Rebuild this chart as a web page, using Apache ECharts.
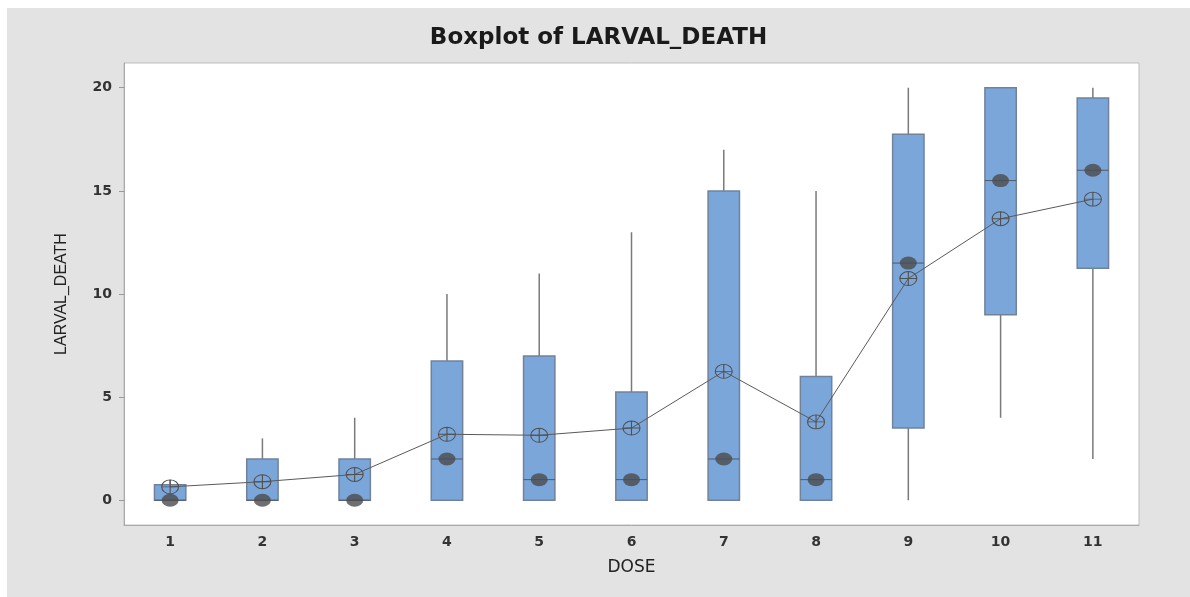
<!DOCTYPE html>
<html>
<head>
<meta charset="utf-8">
<script src="https://cdn.jsdelivr.net/npm/echarts@6/dist/echarts.min.js"></script>
<style>
  html, body { margin: 0; padding: 0; background: #fff; }
  #wrap { width: 1190px; height: 597px; padding: 8px 0 0 7px; box-sizing: border-box; }
  #boxplot_larval { width: 1183px; height: 589px; background: #e3e3e3; }
</style>
</head>
<body>
<div id="wrap"><div id="boxplot_larval"></div></div>
<script>
// Boxplot of LARVAL_DEATH by DOSE
var doses = ['1', '2', '3', '4', '5', '6', '7', '8', '9', '10', '11'];
var whiskerLow = [0, 0, 0, 0, 0, 0, 0, 0, 0, 4, 2];
var q1 = [0, 0, 0, 0, 0, 0, 0, 0, 3.5, 9, 11.25];
var medians = [0, 0, 0, 2, 1, 1, 2, 1, 11.5, 15.5, 16];
var q3 = [0.75, 2, 2, 6.75, 7, 5.25, 15, 6, 17.75, 20, 19.5];
var whiskerHigh = [1, 3, 4, 10, 11, 13, 17, 15, 20, 20, 20];
var means = [0.65, 0.9, 1.25, 3.2, 3.15, 3.5, 6.25, 3.8, 10.75, 13.65, 14.6];
var yTicks = [0, 5, 10, 15, 20];

var dom = document.getElementById('boxplot_larval');
var myChart = echarts.init(dom);

var boxData = doses.map(function (d, i) {
    return [i, whiskerLow[i], q1[i], medians[i], q3[i], whiskerHigh[i]];
});
var medianData = doses.map(function (d, i) { return [i, medians[i]]; });

var meanSymbol = 'path://M0,5A5,5 0 1,1 10,5A5,5 0 1,1 0,5Z M5,0L5,10 M0,5L10,5';

var option = {
    animation: false,
    title: {
        text: 'Boxplot of LARVAL_DEATH',
        left: 'center',
        top: 14,
        textStyle: { fontFamily: 'DejaVu Sans', fontSize: 23, fontWeight: 'bold', color: '#1a1a1a' }
    },
    grid: {
        left: 117, top: 55, width: 1015, height: 462,
        show: true, backgroundColor: '#ffffff', borderColor: '#bdbdbd', borderWidth: 1
    },
    xAxis: {
        type: 'category',
        data: doses,
        name: 'DOSE',
        nameLocation: 'middle',
        nameGap: 34,
        nameTextStyle: { fontFamily: 'DejaVu Sans', fontSize: 17, color: '#222' },
        axisLine: { onZero: false, lineStyle: { color: '#aaaaaa' } },
        axisTick: { alignWithLabel: true, length: 5, lineStyle: { color: '#999' } },
        axisLabel: { fontFamily: 'DejaVu Sans', fontSize: 14, fontWeight: 'bold', color: '#333', margin: 10 },
        splitLine: { show: false }
    },
    yAxis: {
        type: 'value',
        min: -1.2,
        max: 21.2,
        name: 'LARVAL_DEATH',
        nameLocation: 'middle',
        nameRotate: 90,
        nameGap: 54,
        nameTextStyle: { fontFamily: 'Liberation Sans', fontSize: 16, color: '#222' },
        axisLine: { show: true, lineStyle: { color: '#aaaaaa' } },
        axisTick: { show: true, length: 5, customValues: yTicks, lineStyle: { color: '#999' } },
        axisLabel: { fontFamily: 'DejaVu Sans', fontSize: 14, fontWeight: 'bold', color: '#333', margin: 12, customValues: yTicks },
        splitLine: { show: false }
    },
    series: [
        {
            type: 'custom',
            data: boxData,
            encode: { x: 0, y: [1, 2, 3, 4, 5] },
            renderItem: function (params, api) {
                var x = api.value(0);
                var pLow = api.coord([x, api.value(1)]);
                var pQ1 = api.coord([x, api.value(2)]);
                var pMed = api.coord([x, api.value(3)]);
                var pQ3 = api.coord([x, api.value(4)]);
                var pHigh = api.coord([x, api.value(5)]);
                var bw = api.size([1, 0])[0] * 0.34;
                return {
                    type: 'group',
                    children: [
                        {
                            type: 'line',
                            shape: { x1: pLow[0], y1: pLow[1], x2: pHigh[0], y2: pHigh[1] },
                            style: { stroke: '#7a7a7a', lineWidth: 1.5 }
                        },
                        {
                            type: 'rect',
                            shape: { x: pQ3[0] - bw / 2, y: pQ3[1], width: bw, height: pQ1[1] - pQ3[1] },
                            style: { fill: '#7ba6da', stroke: '#71829b', lineWidth: 1.5 }
                        },
                        {
                            type: 'line',
                            shape: { x1: pMed[0] - bw / 2, y1: pMed[1], x2: pMed[0] + bw / 2, y2: pMed[1] },
                            style: { stroke: '#4f5a68', lineWidth: 1 }
                        }
                    ]
                };
            },
            z: 2
        },
        {
            type: 'scatter',
            data: medianData,
            symbol: 'circle',
            symbolSize: [17, 13],
            itemStyle: { color: '#4b4b4b' },
            z: 3
        },
        {
            type: 'line',
            data: means,
            symbol: meanSymbol,
            symbolSize: [17, 14],
            symbolKeepAspect: false,
            showAllSymbol: true,
            lineStyle: { color: '#5a5a5a', width: 1 },
            itemStyle: { color: 'rgba(0,0,0,0)', borderColor: '#505050', borderWidth: 1 },
            z: 4
        }
    ]
};

if (option && typeof option === 'object') {
    myChart.setOption(option);
}
</script>
</body>
</html>
